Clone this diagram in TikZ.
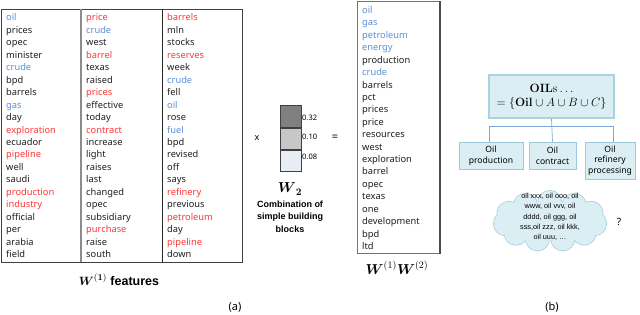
\documentclass[tikz,border=0pt]{standalone}
\usepackage{amsmath}
\usepackage[no-math]{fontspec}
\setmainfont{Noto Sans}
\newfontfamily\clfont{Liberation Sans}
\newfontfamily\bsans{Liberation Sans}
\usetikzlibrary{positioning}
\definecolor{wk}{HTML}{1E1E1E}
\definecolor{wr}{HTML}{FF3535}
\definecolor{wb}{HTML}{5B8ED6}
\definecolor{boxfill}{HTML}{DBEEF4}
\definecolor{boxline}{HTML}{9DC9DA}
\definecolor{connc}{HTML}{7DA6D9}
\begin{document}
\begin{tikzpicture}[x=1pt,y=-1pt,
  word/.style={inner sep=0pt, anchor=base west, font=\fontsize{9.3}{11}\selectfont},
  cell/.style={draw=black!75, line width=0.8pt, minimum width=21pt, minimum height=21.3pt, inner sep=0pt},
  vlabel/.style={inner sep=0pt, anchor=west, font=\rmfamily\fontsize{7.5}{9}\selectfont},
  bluebox/.style={draw=boxline, fill=boxfill, line width=0.6pt, inner sep=0pt, align=center, font=\fontsize{8.6}{10.6}\selectfont},
  conn/.style={draw=connc, line width=0.7pt},
  captext/.style={inner sep=0pt, font=\fontsize{11}{13}\selectfont}]
\useasboundingbox (0,0) rectangle (640,315);
% left table
\draw[black!75, line width=0.8pt] (1,9) rectangle (242,262);
\draw[black!45, line width=1.4pt] (81,9) -- (81,262);
\draw[black!85, line width=0.9pt] (162,9) -- (162,262);
\foreach \c/\w [count=\i] in {b/oil,k/prices,k/opec,k/minister,b/crude,k/bpd,k/barrels,b/gas,k/day,r/exploration,k/ecuador,r/pipeline,k/well,k/saudi,r/production,r/industry,k/official,k/per,k/arabia,k/field}
  \node[word, text=w\c] (ca\i) at (6,{21+(\i-1)*12.45}) {\w};
\foreach \c/\w [count=\i] in {r/price,b/crude,k/west,r/barrel,k/texas,k/raised,r/prices,k/effective,k/today,r/contract,k/increase,k/light,k/raises,k/last,k/changed,k/opec,k/subsidiary,r/purchase,k/raise,k/south}
  \node[word, text=w\c] (cb\i) at (86,{21+(\i-1)*12.45}) {\w};
\foreach \c/\w [count=\i] in {r/barrels,k/mln,k/stocks,r/reserves,k/week,b/crude,k/fell,b/oil,k/rose,b/fuel,k/bpd,k/revised,k/off,k/says,r/refinery,k/previous,r/petroleum,k/day,r/pipeline,k/down}
  \node[word, text=w\c] (cc\i) at (167,{21+(\i-1)*12.45}) {\w};
\node[captext, font=\bsans\fontsize{12.5}{14}\selectfont\bfseries] (lab1) at (119,280) {$\boldsymbol{W}^{(\mathbf{1})}$ features};
% multiplication
\node[inner sep=0pt, font=\fontsize{9}{11}\selectfont] (times) at (257,138) {x};
\node[cell, fill=black!50] (w2a) at (290.5,116.5) {};
\node[cell, fill=black!22, below=0pt of w2a] (w2b) {};
\node[cell, fill={rgb,255:red,232;green,237;blue,245}, below=0pt of w2b] (w2c) {};
\node[vlabel] (va) at (302,118) {0.32};
\node[vlabel] (vb) at (302,137) {0.10};
\node[vlabel] (vc) at (302,157) {0.08};
\node[inner sep=0pt, font=\fontsize{11}{13}\selectfont] (eq) at (335,138) {=};
\node[inner sep=0pt, font=\fontsize{14}{16}\selectfont] (w2lab) at (290,189) {$\boldsymbol{W}_{\mathbf{2}}$};
\node[inner sep=0pt, align=center, font=\bsans\fontsize{9}{12.5}\selectfont\bfseries] (comb) at (290,216.5) {Combination of\\simple building\\blocks};
% right list
\draw[black!55, line width=0.7pt] (357,1) rectangle (439,253);
\draw[black!70, line width=1.6pt] (440,1) -- (440,254);
\foreach \c/\w [count=\i] in {b/oil,b/gas,b/petroleum,b/energy,k/production,b/crude,k/barrels,k/pct,k/prices,k/price,k/resources,k/west,k/exploration,k/barrel,k/opec,k/texas,k/one,k/development,k/bpd,k/ltd}
  \node[word, text=w\c] (cd\i) at (362,{13.5+(\i-1)*12.42}) {\w};
\node[captext, font=\fontsize{14}{16}\selectfont] (lab2) at (397,268) {$\boldsymbol{W}^{(1)}\boldsymbol{W}^{(2)}$};
\node[captext] (pa) at (235,307) {(a)};
% panel (b)
\node[bluebox, draw=boxline!85, line width=1.6pt, minimum width=125pt, minimum height=43pt, font=\fontsize{12.5}{15}\selectfont] (oils) at (551.5,96.5) {$\mathbf{OIL}\mathrm{s}\ldots$\\[-1pt]$=\{\mathbf{Oil}\cup A\cup B\cup C\}$};
\node[bluebox, minimum width=64pt, minimum height=27pt] (c1) at (491,155.5) {Oil\\production};
\node[bluebox, minimum width=47pt, minimum height=27pt] (c2) at (552.5,155.5) {Oil\\contract};
\node[bluebox, minimum width=50pt, minimum height=37pt] (c3) at (610,160.5) {Oil\\refinery\\processing};
\coordinate (hl) at (489,126);
\coordinate (hr) at (613,126);
\draw[conn] (oils.south) -- (c2.north);
\draw[conn] (hl |- c1.north) -- (hl) -- (hr) -- (hr |- c3.north);
% cloud
\foreach \k in {0,...,10}
  \draw[boxline, fill=boxfill, line width=1.3pt] ({550+45*cos(\k*360/11+8)},{221+18.5*sin(\k*360/11+8)}) circle (11.8);
\foreach \k in {0,...,10}
  \fill[boxfill] ({550+45*cos(\k*360/11+8)},{221+18.5*sin(\k*360/11+8)}) circle (11.8);
\fill[boxfill] (550,221) ellipse (46 and 19);
\node[inner sep=0pt, align=center, font=\clfont\fontsize{7.3}{10.4}\selectfont] (cloudtxt) at (550,217) {oil xxx, oil ooo, oil\\www, oil vvv, oil\\dddd, oil ggg, oil\\sss,oil zzz, oil kkk,\\oil uuu, \ldots};
\node[inner sep=0pt, font=\fontsize{10}{12}\selectfont] (q) at (619,222) {?};
\node[captext] (pb) at (552,307) {(b)};
\end{tikzpicture}
\end{document}
